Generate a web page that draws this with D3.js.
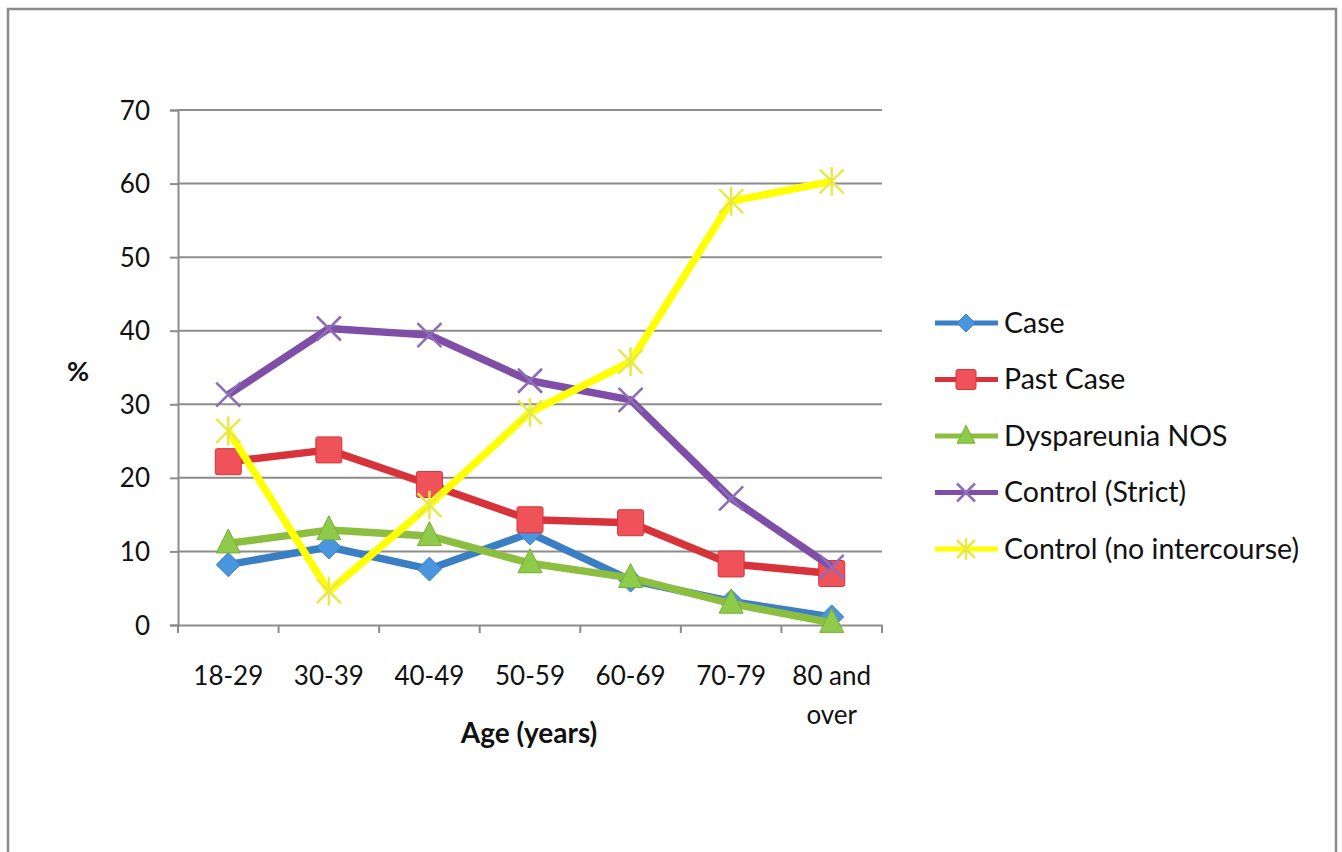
<!DOCTYPE html>
<html>
<head>
<meta charset="utf-8">
<script src="https://cdn.jsdelivr.net/npm/d3@7"></script>
<style>
  body { margin: 0; background: #fff; }
  svg text { font-family: Lato, "Open Sans", sans-serif; fill: #111; }
</style>
</head>
<body>
<div id="chart"></div>
<script>
const ages = ["18-29", "30-39", "40-49", "50-59", "60-69", "70-79", "80 and over"];
const yTicks = [0, 10, 20, 30, 40, 50, 60, 70];

const caseVals = [8.2, 10.6, 7.6, 12.5, 6.1, 3.2, 1.1];
const pastCaseVals = [22.2, 23.8, 19.1, 14.3, 13.9, 8.3, 7.0];
const dyspareuniaVals = [11.1, 12.9, 12.1, 8.4, 6.4, 2.9, 0.3];
const strictVals = [31.3, 40.3, 39.4, 33.2, 30.6, 17.2, 7.9];
const noIntercourseVals = [26.4, 4.6, 16.3, 28.9, 35.8, 57.6, 60.3];

const seriesNames = ["Case", "Past Case", "Dyspareunia NOS", "Control (Strict)", "Control (no intercourse)"];
const seriesValues = [caseVals, pastCaseVals, dyspareuniaVals, strictVals, noIntercourseVals];
const colors = ["#3a7fc4", "#d7333a", "#8cbe3f", "#7f4fa8", "#ffff00"];
const markerFill = ["#4a96de", "#f0525a", "#8fcb4a", "#7f4fa8", "#ffff33"];
const shapes = ["diamond", "square", "triangle", "x", "star"];

const W = 1342, H = 852;
const svg = d3.select("#chart").append("svg").attr("width", W).attr("height", H);

// outer frame
svg.append("rect").attr("x", 8).attr("y", 9).attr("width", 1328).attr("height", 900)
  .attr("fill", "none").attr("stroke", "#8a8a8a").attr("stroke-width", 2.5);

const plotLeft = 178, plotRight = 882, plotTop = 110, plotBottom = 625;

const x = d3.scaleBand().domain(ages).range([plotLeft, plotRight]).padding(0);
const y = d3.scaleLinear().domain([0, 70]).range([plotBottom, plotTop]);

// gridlines
svg.append("g").selectAll("line").data(yTicks.slice(1)).join("line")
  .attr("x1", plotLeft).attr("x2", plotRight)
  .attr("y1", d => y(d)).attr("y2", d => y(d))
  .attr("stroke", "#8c8c8c").attr("stroke-width", 2);

// y axis
const yAxis = svg.append("g").attr("transform", `translate(${plotLeft},0)`)
  .call(d3.axisLeft(y).tickValues(yTicks).tickSize(8).tickPadding(20));
yAxis.select(".domain").attr("stroke", "#8c8c8c").attr("stroke-width", 2);
yAxis.selectAll(".tick line").attr("stroke", "#8c8c8c").attr("stroke-width", 2);
yAxis.selectAll(".tick text").style("font-size", "26px").attr("dy", "0.35em");

// x axis
const xAxis = svg.append("g").attr("transform", `translate(0,${plotBottom})`)
  .call(d3.axisBottom(x).tickSize(0));
xAxis.select(".domain").attr("stroke", "#8c8c8c").attr("stroke-width", 2);
xAxis.selectAll(".tick text").style("font-size", "26px").text(null)
  .attr("y", 51).attr("dy", "0.35em")
  .each(function(d) {
    const t = d3.select(this);
    const parts = d === "80 and over" ? ["80 and", "over"] : [d];
    parts.forEach((p, i) => t.append("tspan").attr("x", 0).attr("dy", i === 0 ? "0.35em" : "1.5em").text(p));
  });
// boundary ticks between categories
const bounds = ages.map(a => x(a)).concat([plotRight]);
svg.append("g").selectAll("line").data(bounds).join("line")
  .attr("x1", d => d).attr("x2", d => d)
  .attr("y1", plotBottom).attr("y2", plotBottom + 8)
  .attr("stroke", "#8c8c8c").attr("stroke-width", 2);

// axis titles
svg.append("text").attr("x", 78).attr("y", 372).attr("dy", "0.35em").attr("text-anchor", "middle")
  .style("font-size", "27px").style("font-weight", "bold").text("%");
svg.append("text").attr("x", 529).attr("y", 733).attr("dy", "0.35em").attr("text-anchor", "middle")
  .style("font-size", "28px").style("font-weight", "bold").text("Age (years)");

const cx = a => x(a) + x.bandwidth() / 2;

function drawMarker(g, shape, px, py, i, s) {
  if (shape === "diamond") {
    g.append("path").attr("d", `M${px},${py - s}L${px + s},${py}L${px},${py + s}L${px - s},${py}Z`)
      .attr("fill", markerFill[i]).attr("stroke", colors[i]).attr("stroke-width", 1);
  } else if (shape === "square") {
    g.append("rect").attr("x", px - s).attr("y", py - s).attr("width", 2 * s).attr("height", 2 * s)
      .attr("rx", 2).attr("fill", markerFill[i]).attr("stroke", colors[i]).attr("stroke-width", 1);
  } else if (shape === "triangle") {
    g.append("path").attr("d", `M${px},${py - s * 1.2}L${px + s},${py + s * 0.8}L${px - s},${py + s * 0.8}Z`)
      .attr("fill", markerFill[i]).attr("stroke", "#7aae34").attr("stroke-width", 1);
  } else if (shape === "x") {
    g.append("path").attr("d", `M${px - s},${py - s}L${px + s},${py + s}M${px - s},${py + s}L${px + s},${py - s}`)
      .attr("stroke", "#8d6cb8").attr("stroke-width", 2.5);
  } else if (shape === "star") {
    g.append("path").attr("d", `M${px - s},${py - s}L${px + s},${py + s}M${px - s},${py + s}L${px + s},${py - s}M${px},${py - s * 1.2}L${px},${py + s * 1.2}`)
      .attr("stroke", "#e8e84a").attr("stroke-width", 2.5);
  }
}

const line = d3.line().x(d => cx(d.age)).y(d => y(d.v));

seriesValues.forEach((vals, i) => {
  const pts = vals.map((v, k) => ({ age: ages[k], v: v }));
  const g = svg.append("g");
  g.append("path").datum(pts).attr("d", line)
    .attr("fill", "none").attr("stroke", colors[i]).attr("stroke-width", 7.5)
    .attr("stroke-linejoin", "round");
  pts.forEach(p => drawMarker(g, shapes[i], cx(p.age), y(p.v), i, i === 1 ? 13 : 12));
});

// legend
const legend = svg.append("g");
seriesNames.forEach((name, i) => {
  const ly = 323 + i * 56.5;
  const lg = legend.append("g");
  lg.append("line").attr("x1", 935).attr("x2", 998).attr("y1", ly).attr("y2", ly)
    .attr("stroke", colors[i]).attr("stroke-width", 5);
  drawMarker(lg, shapes[i], 966, ly, i, i === 1 ? 10 : 9);
  lg.append("text").attr("x", 1004).attr("y", ly).attr("dy", "0.35em")
    .style("font-size", "28.5px").text(name);
});
</script>
</body>
</html>
